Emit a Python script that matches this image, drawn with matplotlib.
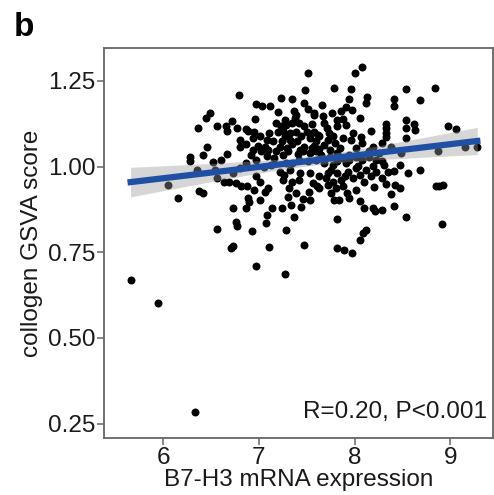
import numpy as np
import matplotlib
matplotlib.use("Agg")
import matplotlib.pyplot as plt

# B7-H3 mRNA expression (x) and collogen GSVA score (y)
b7h3 = [
    8.08, 8.00, 7.51, 7.78, 7.96, 7.48, 6.79, 8.54, 8.84, 7.23, 7.34, 8.13, 7.94, 8.41, 8.68,
    6.97, 7.03, 7.12, 8.12, 8.41, 7.66, 7.47, 7.51, 7.91, 7.20, 7.37, 6.49, 7.86, 7.58, 7.67,
    6.45, 6.72, 6.96, 7.27, 7.38, 8.05, 7.81, 7.88, 8.54, 6.36, 6.56, 6.66, 6.77, 6.86, 6.89,
    7.18, 7.23, 7.28, 7.34, 7.42, 7.47, 7.55, 7.68, 7.71, 7.82, 7.91, 8.33, 8.33, 8.62, 8.63,
    8.54, 8.17, 6.67, 6.95, 7.11, 7.25, 7.39, 7.57, 7.98, 8.97, 9.06,
    8.33, 8.33, 8.54, 8.07, 6.80, 6.94, 7.01, 7.08, 7.15, 7.27, 7.32, 7.44, 7.53, 7.63, 7.72,
    7.77, 7.88, 7.96, 6.87, 6.99, 7.06, 7.22, 7.35, 7.47, 7.58, 7.68, 7.79, 8.08, 8.19, 8.29,
    8.38, 6.46, 9.15, 9.28, 6.80,
    6.42, 6.28, 6.28, 6.52, 6.60, 6.67, 6.92, 7.02, 7.08, 7.16, 7.25, 7.30, 7.41, 7.46, 7.53,
    7.60, 7.65, 7.74, 7.81, 7.88, 7.94, 8.01, 8.08, 8.15, 8.22, 8.29, 8.48, 8.87, 6.87, 7.13,
    7.35, 7.77, 7.91, 8.03, 8.19, 8.31, 8.47,
    6.35, 6.54, 8.56, 8.68, 7.22, 7.32, 7.53, 7.63, 7.75, 7.82, 7.93, 8.01, 8.12, 8.22, 8.35,
    8.41, 6.56, 6.63, 6.69, 6.76, 6.97, 7.01, 7.25, 7.34, 7.42, 7.56, 7.70, 7.77, 7.86, 7.98,
    8.10, 8.28, 6.05,
    6.16, 6.37, 6.42, 6.81, 6.88, 6.95, 7.06, 7.09, 7.31, 7.39, 7.46, 7.53, 7.61, 7.72, 7.75,
    7.88, 7.94, 8.01, 7.78, 7.84, 8.20, 8.38, 8.42, 8.47, 8.85, 8.88, 8.92, 6.89, 6.90,
    6.73, 6.86, 7.33, 7.24, 7.14, 7.44, 8.05, 8.10, 8.19, 8.21, 8.28, 8.41, 7.08, 7.37, 6.76,
    6.77, 6.56, 6.93, 7.07, 7.28, 7.81, 8.54, 8.91,
    6.73, 6.71, 6.97, 7.10, 7.27, 7.47, 7.81, 7.89, 7.97, 8.05, 8.09, 8.12, 5.66, 5.95, 6.33,
    7.20, 7.32, 7.50, 7.62, 7.73, 7.24, 7.40, 7.60, 7.85, 8.01, 7.29, 7.43, 7.55, 7.63, 7.74,
    6.94, 7.09, 7.18, 7.60, 7.51, 7.42, 7.28, 7.68, 7.82, 7.94, 8.15, 8.25, 7.72, 7.43, 7.26,
    7.90, 8.05, 8.17, 7.63, 7.80, 7.92, 7.52, 7.01, 7.30, 8.33, 7.05, 6.97, 6.80, 6.73, 7.57,
    7.76, 7.97, 7.39,
]
gsva = [
    1.289, 1.272, 1.272, 1.229, 1.226, 1.222, 1.210, 1.226, 1.229, 1.201, 1.197, 1.204, 1.197, 1.198, 1.193,
    1.183, 1.177, 1.177, 1.185, 1.177, 1.179, 1.185, 1.167, 1.173, 1.160, 1.163, 1.156, 1.161, 1.151, 1.146,
    1.141, 1.134, 1.138, 1.136, 1.141, 1.141, 1.136, 1.138, 1.136, 1.112, 1.119, 1.117, 1.112, 1.109, 1.105,
    1.126, 1.119, 1.122, 1.126, 1.126, 1.117, 1.125, 1.126, 1.112, 1.117, 1.122, 1.125, 1.112, 1.125, 1.107,
    1.112, 1.104, 1.104, 1.102, 1.099, 1.105, 1.102, 1.102, 1.097, 1.119, 1.109,
    1.097, 1.086, 1.083, 1.086, 1.078, 1.083, 1.088, 1.078, 1.073, 1.088, 1.078, 1.088, 1.083, 1.088, 1.078,
    1.090, 1.083, 1.078, 1.066, 1.060, 1.058, 1.058, 1.066, 1.058, 1.060, 1.063, 1.068, 1.070, 1.058, 1.068,
    1.058, 1.058, 1.058, 1.058, 1.058,
    1.034, 1.027, 1.015, 1.012, 1.019, 1.037, 1.034, 1.044, 1.031, 1.024, 1.034, 1.044, 1.037, 1.044, 1.039,
    1.044, 1.034, 1.029, 1.039, 1.024, 1.019, 1.029, 1.019, 1.029, 1.019, 1.015, 1.039, 1.044, 1.010, 1.005,
    1.010, 1.005, 1.010, 1.002, 1.002, 1.005, 1.005,
    0.990, 0.990, 0.982, 0.990, 0.985, 0.990, 0.981, 0.971, 0.990, 0.981, 0.985, 0.995, 0.990, 0.985, 0.985,
    0.988, 0.966, 0.956, 0.956, 0.951, 0.971, 0.956, 0.961, 0.956, 0.961, 0.953, 0.966, 0.956, 0.961, 0.966,
    0.956, 0.966, 0.946,
    0.909, 0.930, 0.922, 0.942, 0.942, 0.932, 0.927, 0.937, 0.937, 0.922, 0.905, 0.903, 0.942, 0.946, 0.922,
    0.942, 0.907, 0.932, 0.903, 0.903, 0.939, 0.920, 0.946, 0.937, 0.942, 0.944, 0.946, 0.908, 0.896,
    0.878, 0.878, 0.889, 0.878, 0.878, 0.883, 0.898, 0.878, 0.878, 0.869, 0.874, 0.885, 0.859, 0.854, 0.837,
    0.827, 0.817, 0.811, 0.834, 0.815, 0.848, 0.853, 0.832,
    0.767, 0.761, 0.711, 0.766, 0.685, 0.771, 0.761, 0.755, 0.748, 0.786, 0.805, 0.815, 0.669, 0.603, 0.285,
    1.102, 1.097, 1.102, 1.092, 1.097, 1.073, 1.073, 1.073, 1.053, 1.053, 1.053, 1.049, 1.053, 1.051, 1.049,
    1.049, 1.049, 1.044, 1.019, 1.015, 1.019, 1.010, 1.010, 1.015, 1.034, 1.044, 1.039, 0.981, 0.981, 0.976,
    0.971, 0.976, 0.971, 0.937, 0.937, 0.922, 0.927, 0.903, 0.912, 0.949, 1.000, 1.019, 0.995, 0.981, 1.157,
    1.156, 1.165, 1.150,
]
x_ticks = [6, 7, 8, 9]
y_ticks = [0.25, 0.50, 0.75, 1.00, 1.25]
stat_label = "R=0.20, P<0.001"

x = np.array(b7h3)
y = np.array(gsva)

plt.rcParams["font.family"] = ["Liberation Sans", "DejaVu Sans"]

fig = plt.figure(figsize=(4.94, 4.95), dpi=100)
ax = fig.add_axes([0.2105, 0.1145, 0.7875, 0.788])

ax.scatter(x, y, s=33, color="black", linewidths=0, zorder=2)

# linear fit with 95% confidence band (like geom_smooth(method="lm"))
n = len(x)
slope, intercept = np.polyfit(x, y, 1)
xs = np.linspace(x.min(), x.max(), 100)
ys = intercept + slope * xs
resid = y - (intercept + slope * x)
s_err = np.sqrt(np.sum(resid ** 2) / (n - 2))
sxx = np.sum((x - x.mean()) ** 2)
ci = 1.968 * s_err * np.sqrt(1 / n + (xs - x.mean()) ** 2 / sxx)
ax.fill_between(xs, ys - ci, ys + ci, color="#999999", alpha=0.4, linewidth=0, zorder=3)
ax.plot(xs, ys, color="#2050A4", linewidth=4.5, zorder=4)

ax.set_xlim(5.382, 9.444)
ax.set_ylim(0.207, 1.345)
ax.set_xticks(x_ticks)
ax.set_xticklabels([str(t) for t in x_ticks])
ax.set_yticks(y_ticks)
ax.set_yticklabels(["%.2f" % t for t in y_ticks])

for side in ["left", "right", "top", "bottom"]:
    ax.spines[side].set_color("#666666")
    ax.spines[side].set_linewidth(1.3)
ax.tick_params(axis="both", color="#666666", width=1.1, length=5,
               labelsize=17.5, labelcolor="#1a1a1a", pad=1)

ax.set_xlabel("B7-H3 mRNA expression", fontsize=17.5, color="#1a1a1a", labelpad=0)
ax.set_ylabel("collogen GSVA score", fontsize=17.5, color="#1a1a1a", labelpad=4)

ax.text(0.985, 0.04, stat_label, transform=ax.transAxes, ha="right", va="bottom",
        fontsize=17.5, color="#1a1a1a")
fig.text(0.028, 0.975, "b", fontsize=24, fontweight="bold", va="top", ha="left")

fig.savefig("out.png", dpi=100, facecolor="white")
